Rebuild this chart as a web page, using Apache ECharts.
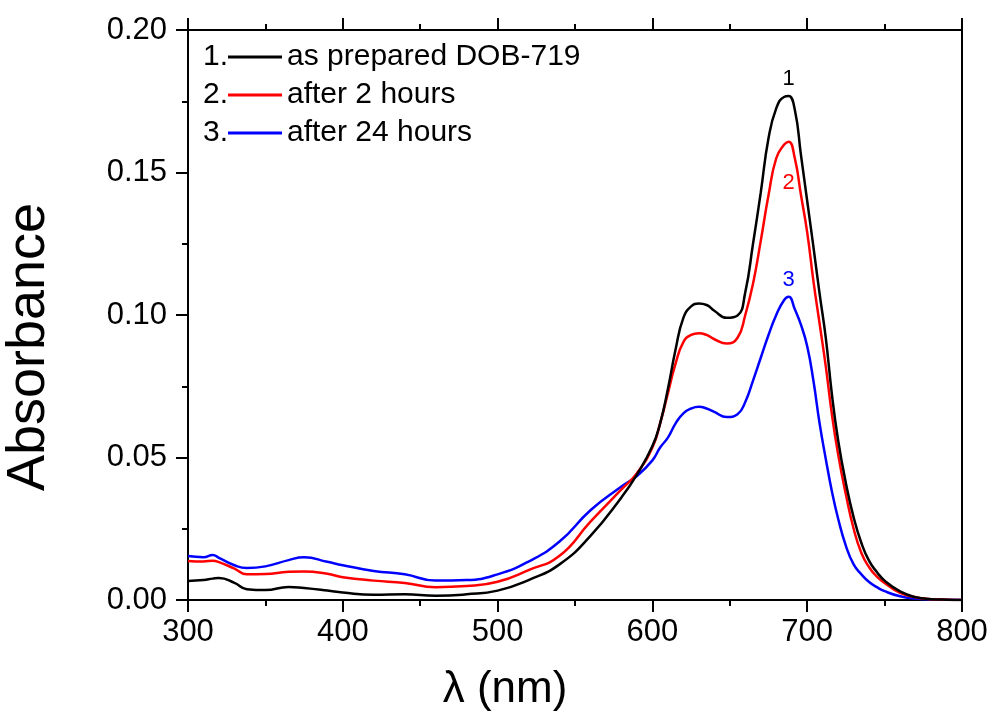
<!DOCTYPE html>
<html>
<head>
<meta charset="utf-8">
<script src="https://cdn.jsdelivr.net/npm/echarts@6/dist/echarts.min.js"></script>
<style>
html,body{margin:0;padding:0;background:#fff;}
#chart{width:992px;height:713px;}
</style>
</head>
<body>
<div id="chart"></div>
<script>
// Wavelengths (nm)
var wavelengths = [300,310,316,320,330,338,350,365,375,390,400,420,440,460,480,500,520,540,560,580,590,600,605,610,615,620,625,630,635,640,648,655,660,665,670,675,680,685,688,692,696,700,704,708,712,716,720,725,730,735,740,745,750,760,770,780,790,800];
// 1. as prepared DOB-719
var absPrepared = [0.0067,0.0070,0.0075,0.0077,0.0060,0.0038,0.0035,0.0046,0.0042,0.0033,0.0026,0.0018,0.0020,0.0015,0.0020,0.0033,0.0070,0.0125,0.0225,0.0360,0.0440,0.0540,0.0620,0.0740,0.0880,0.0990,0.1030,0.1040,0.1035,0.1015,0.0990,0.0998,0.1080,0.1250,0.1430,0.1620,0.1725,0.1765,0.1768,0.1720,0.1560,0.1400,0.1240,0.1075,0.0920,0.0720,0.0560,0.0410,0.0290,0.0200,0.0137,0.0098,0.0068,0.0030,0.0010,0.0003,0.0001,0.0000];
// 2. after 2 hours
var abs2h = [0.0137,0.0135,0.0138,0.0133,0.0110,0.0090,0.0091,0.0099,0.0100,0.0092,0.0080,0.0068,0.0060,0.0045,0.0049,0.0064,0.0105,0.0155,0.0275,0.0388,0.0445,0.0535,0.0620,0.0725,0.0830,0.0905,0.0930,0.0936,0.0930,0.0915,0.0900,0.0920,0.1000,0.1110,0.1260,0.1420,0.1550,0.1597,0.1608,0.1550,0.1420,0.1290,0.1120,0.0970,0.0820,0.0650,0.0510,0.0370,0.0250,0.0165,0.0115,0.0082,0.0060,0.0025,0.0010,0.0003,0.0001,0.0000];
// 3. after 24 hours
var abs24h = [0.0154,0.0150,0.0158,0.0148,0.0122,0.0112,0.0118,0.0140,0.0150,0.0134,0.0122,0.0102,0.0090,0.0068,0.0070,0.0090,0.0135,0.0205,0.0315,0.0398,0.0435,0.0490,0.0535,0.0570,0.0620,0.0655,0.0672,0.0678,0.0672,0.0660,0.0642,0.0652,0.0695,0.0770,0.0850,0.0930,0.1000,0.1052,0.1064,0.1020,0.0965,0.0890,0.0770,0.0620,0.0495,0.0380,0.0285,0.0190,0.0125,0.0090,0.0063,0.0045,0.0031,0.0013,0.0005,0.0002,0.0001,0.0000];

var seriesNames = ['as prepared DOB-719','after 2 hours','after 24 hours'];
var seriesNumbers = ['1.','2.','3.'];
var peakLabels = ['1','2','3'];
var peakWavelength = 688;
var colors = ['#000000','#ff0000','#0000ff'];

var FONT = 'Arial, "Liberation Sans", sans-serif';

function pairs(ys){ return wavelengths.map(function(x,i){ return [x, ys[i]]; }); }
var allData = [absPrepared, abs2h, abs24h];
var labelPos = ['top','bottom','top'];
var labelDist = [6, 30, 5];

var series = allData.map(function(ys, k){
  var peakIdx = wavelengths.indexOf(peakWavelength);
  return {
    name: seriesNames[k],
    type: 'line',
    data: pairs(ys),
    symbol: 'none',
    smooth: 0.5,
    lineStyle: {color: colors[k], width: 2.5},
    itemStyle: {color: colors[k]},
    z: 5 - k,
    markPoint: {
      symbol: 'circle',
      symbolSize: 1,
      itemStyle: {color: 'rgba(0,0,0,0)'},
      label: {show: true, position: labelPos[k], distance: labelDist[k], formatter: peakLabels[k], color: colors[k], fontSize: 22, fontFamily: FONT},
      data: [{coord: [wavelengths[peakIdx], ys[peakIdx]]}]
    }
  };
});

var chart = echarts.init(document.getElementById('chart'), null, {renderer: 'canvas'});
var axisLineStyle = {color: '#000', width: 2};
var tickStyle = {color: '#000', width: 2};
chart.setOption({
  backgroundColor: '#fff',
  animation: false,
  grid: {left: 188, right: 30, top: 30, bottom: 113, outerBoundsMode: 'none', containLabel: false},
  legend: {
    orient: 'vertical',
    left: 228,
    top: 42,
    padding: 0,
    itemGap: 8,
    itemWidth: 54,
    itemHeight: 3,
    icon: 'rect',
    textStyle: {fontSize: 30, fontFamily: FONT, color: '#000'},
    data: seriesNames
  },
  graphic: seriesNumbers.map(function(t, i){
    return {type: 'text', left: 203, top: 42 + i * 38, style: {text: t, fontSize: 30, fontFamily: FONT, fill: '#000'}};
  }),
  xAxis: [{
    type: 'value', min: 300, max: 800, interval: 100,
    name: 'λ (nm)', nameLocation: 'middle', nameGap: 68,
    nameTextStyle: {fontSize: 44, fontFamily: FONT, color: '#000', padding: [0, 140, 0, 0]},
    axisLine: {show: true, onZero: false, lineStyle: axisLineStyle},
    axisTick: {show: true, inside: false, length: 12, lineStyle: tickStyle},
    minorTick: {show: true, splitNumber: 2, length: 6, lineStyle: tickStyle},
    axisLabel: {fontSize: 31, fontFamily: FONT, color: '#000', margin: 17},
    splitLine: {show: false}
  },{
    type: 'value', min: 300, max: 800, interval: 100, position: 'top',
    axisLine: {show: true, onZero: false, lineStyle: axisLineStyle},
    axisTick: {show: true, inside: false, length: 12, lineStyle: tickStyle},
    minorTick: {show: true, splitNumber: 2, length: 6, lineStyle: tickStyle},
    axisLabel: {show: false},
    splitLine: {show: false}
  }],
  yAxis: [{
    type: 'value', min: 0, max: 0.2, interval: 0.05,
    name: 'Absorbance', nameLocation: 'middle', nameGap: 132,
    nameTextStyle: {fontSize: 54, fontFamily: FONT, color: '#000', padding: [0, 64, 0, 0]},
    axisLine: {show: true, onZero: false, lineStyle: axisLineStyle},
    axisTick: {show: true, inside: false, length: 12, lineStyle: tickStyle},
    minorTick: {show: true, splitNumber: 2, length: 6, lineStyle: tickStyle},
    axisLabel: {fontSize: 31, fontFamily: FONT, color: '#000', margin: 21, formatter: function(v){ return v.toFixed(2); }},
    splitLine: {show: false}
  },{
    type: 'value', min: 0, max: 0.2, interval: 0.05, position: 'right',
    axisLine: {show: true, onZero: false, lineStyle: axisLineStyle},
    axisTick: {show: false},
    axisLabel: {show: false},
    splitLine: {show: false}
  }],
  series: series
});
</script>
</body>
</html>
